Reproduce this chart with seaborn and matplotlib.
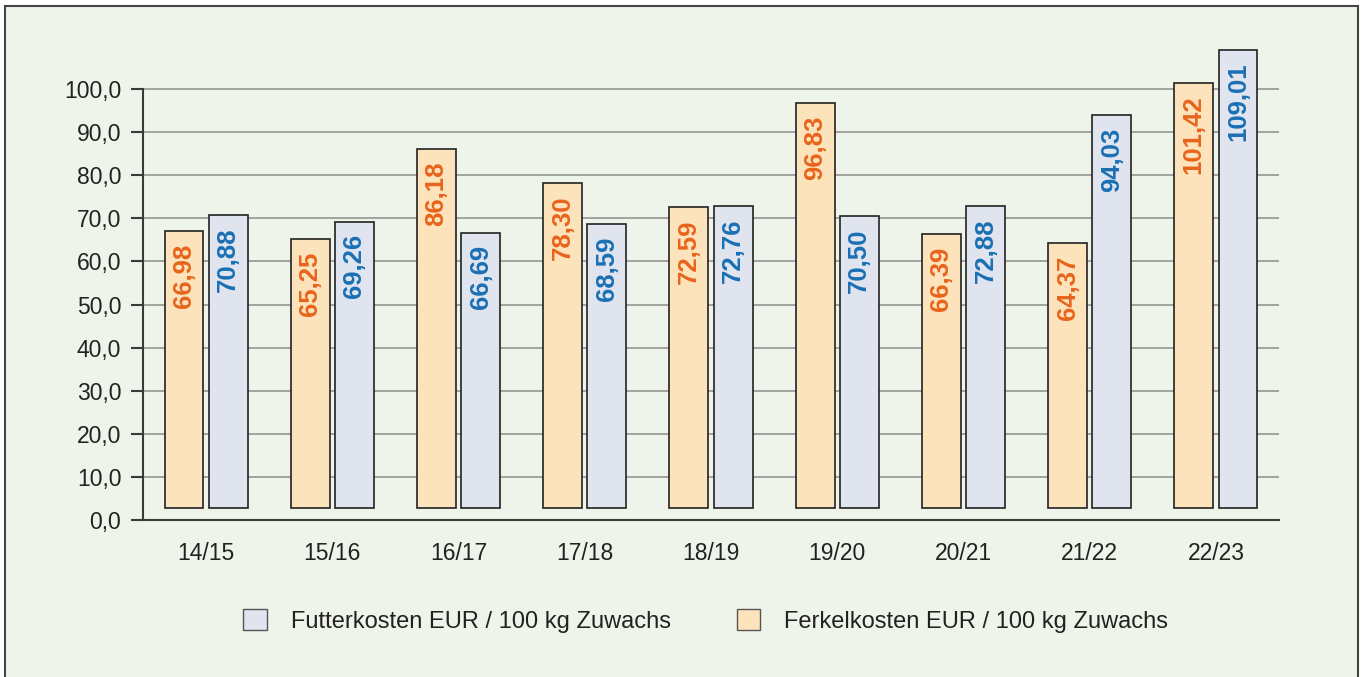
import matplotlib
matplotlib.use("Agg")
import matplotlib.pyplot as plt
from matplotlib.patches import Patch, Rectangle
from matplotlib.ticker import FuncFormatter, FixedLocator
import pandas as pd
import seaborn as sns

# data
seasons = ["14/15", "15/16", "16/17", "17/18", "18/19", "19/20", "20/21", "21/22", "22/23"]
ferkel = [66.98, 65.25, 86.18, 78.30, 72.59, 96.83, 66.39, 64.37, 101.42]
futter = [70.88, 69.26, 66.69, 68.59, 72.76, 70.50, 72.88, 94.03, 109.01]

lab_ferkel = "Ferkelkosten EUR / 100 kg Zuwachs"
lab_futter = "Futterkosten EUR / 100 kg Zuwachs"

df = pd.DataFrame({
    "season": seasons * 2,
    "value": ferkel + futter,
    "series": [lab_ferkel] * len(seasons) + [lab_futter] * len(seasons),
})

sns.set_style("white")
plt.rcParams["font.family"] = ["Liberation Sans", "DejaVu Sans"]

fill_colors = {lab_ferkel: "#fde3bc", lab_futter: "#e0e4ef"}
text_colors = {lab_ferkel: "#e8641b", lab_futter: "#1a6fb3"}
dark = "#3a3a3a"

fig = plt.figure(figsize=(13.65, 6.77), dpi=100)
fig.patch.set_facecolor("white")
fig.patches.append(Rectangle((5 / 1365, -0.01), 1353 / 1365, (677 - 6) / 677 + 0.01,
                             transform=fig.transFigure, facecolor="#eff4ea",
                             edgecolor="#444444", linewidth=1.5, zorder=-10))

ax = fig.add_axes([143 / 1365, 157 / 677, 1136 / 1365, 0.7001])
ax.set_facecolor("none")

sns.barplot(data=df, x="season", y="value", hue="series",
            hue_order=[lab_ferkel, lab_futter], palette=fill_colors, saturation=1,
            width=0.7, gap=0.12, edgecolor="#222222", linewidth=1.2,
            legend=False, ax=ax, zorder=3)

# bars in the original start slightly above the baseline
base = 2.8
for container, lab in zip(ax.containers, [lab_ferkel, lab_futter]):
    vals = ferkel if lab == lab_ferkel else futter
    for p, v in zip(container.patches, vals):
        top = p.get_y() + p.get_height()
        p.set_y(base)
        p.set_height(top - base)
        ax.annotate(f"{v:.2f}".replace(".", ","),
                    xy=(p.get_x() + p.get_width() / 2, top),
                    xytext=(0, -9), textcoords="offset points",
                    rotation=90, ha="center", va="top",
                    fontsize=18.5, fontweight="bold",
                    color=text_colors[lab], zorder=5)

ax.set_xlim(-0.5, len(seasons) - 0.5)
ax.set_ylim(0, 110)
ax.set_yticks(range(0, 101, 10))
ax.yaxis.set_major_formatter(FuncFormatter(lambda v, _: f"{v:.1f}".replace(".", ",")))
ax.grid(axis="y", color="#9c9c9c", linewidth=1.3, zorder=0)
ax.set_axisbelow(True)

for s in ["top", "right"]:
    ax.spines[s].set_visible(False)
ax.spines["left"].set_bounds(0, 100)
for s in ["left", "bottom"]:
    ax.spines[s].set_color(dark)
    ax.spines[s].set_linewidth(1.5)

ax.xaxis.set_minor_locator(FixedLocator([i - 0.5 for i in range(len(seasons) + 1)]))
ax.tick_params(axis="x", which="major", length=0, pad=16, labelsize=16.5, labelcolor="#222222")
ax.tick_params(axis="x", which="minor", length=8, width=1.5, color=dark, direction="out")
ax.tick_params(axis="y", length=8.6, width=1.5, color=dark, pad=7, labelsize=16.5,
               labelcolor="#222222", left=True)
ax.set_xlabel("")
ax.set_ylabel("")

handles = [Patch(facecolor=fill_colors[lab_futter], edgecolor="#555555", linewidth=1.0),
           Patch(facecolor=fill_colors[lab_ferkel], edgecolor="#555555", linewidth=1.0)]
fig.legend(handles, [lab_futter, lab_ferkel], loc="center", bbox_to_anchor=(0.517, 0.083),
           ncol=2, frameon=False, fontsize=17, handlelength=1.0, handleheight=1.0,
           handletextpad=1.0, columnspacing=2.8, labelcolor="#222222")

fig.savefig("out.png", dpi=100, facecolor=fig.get_facecolor())
